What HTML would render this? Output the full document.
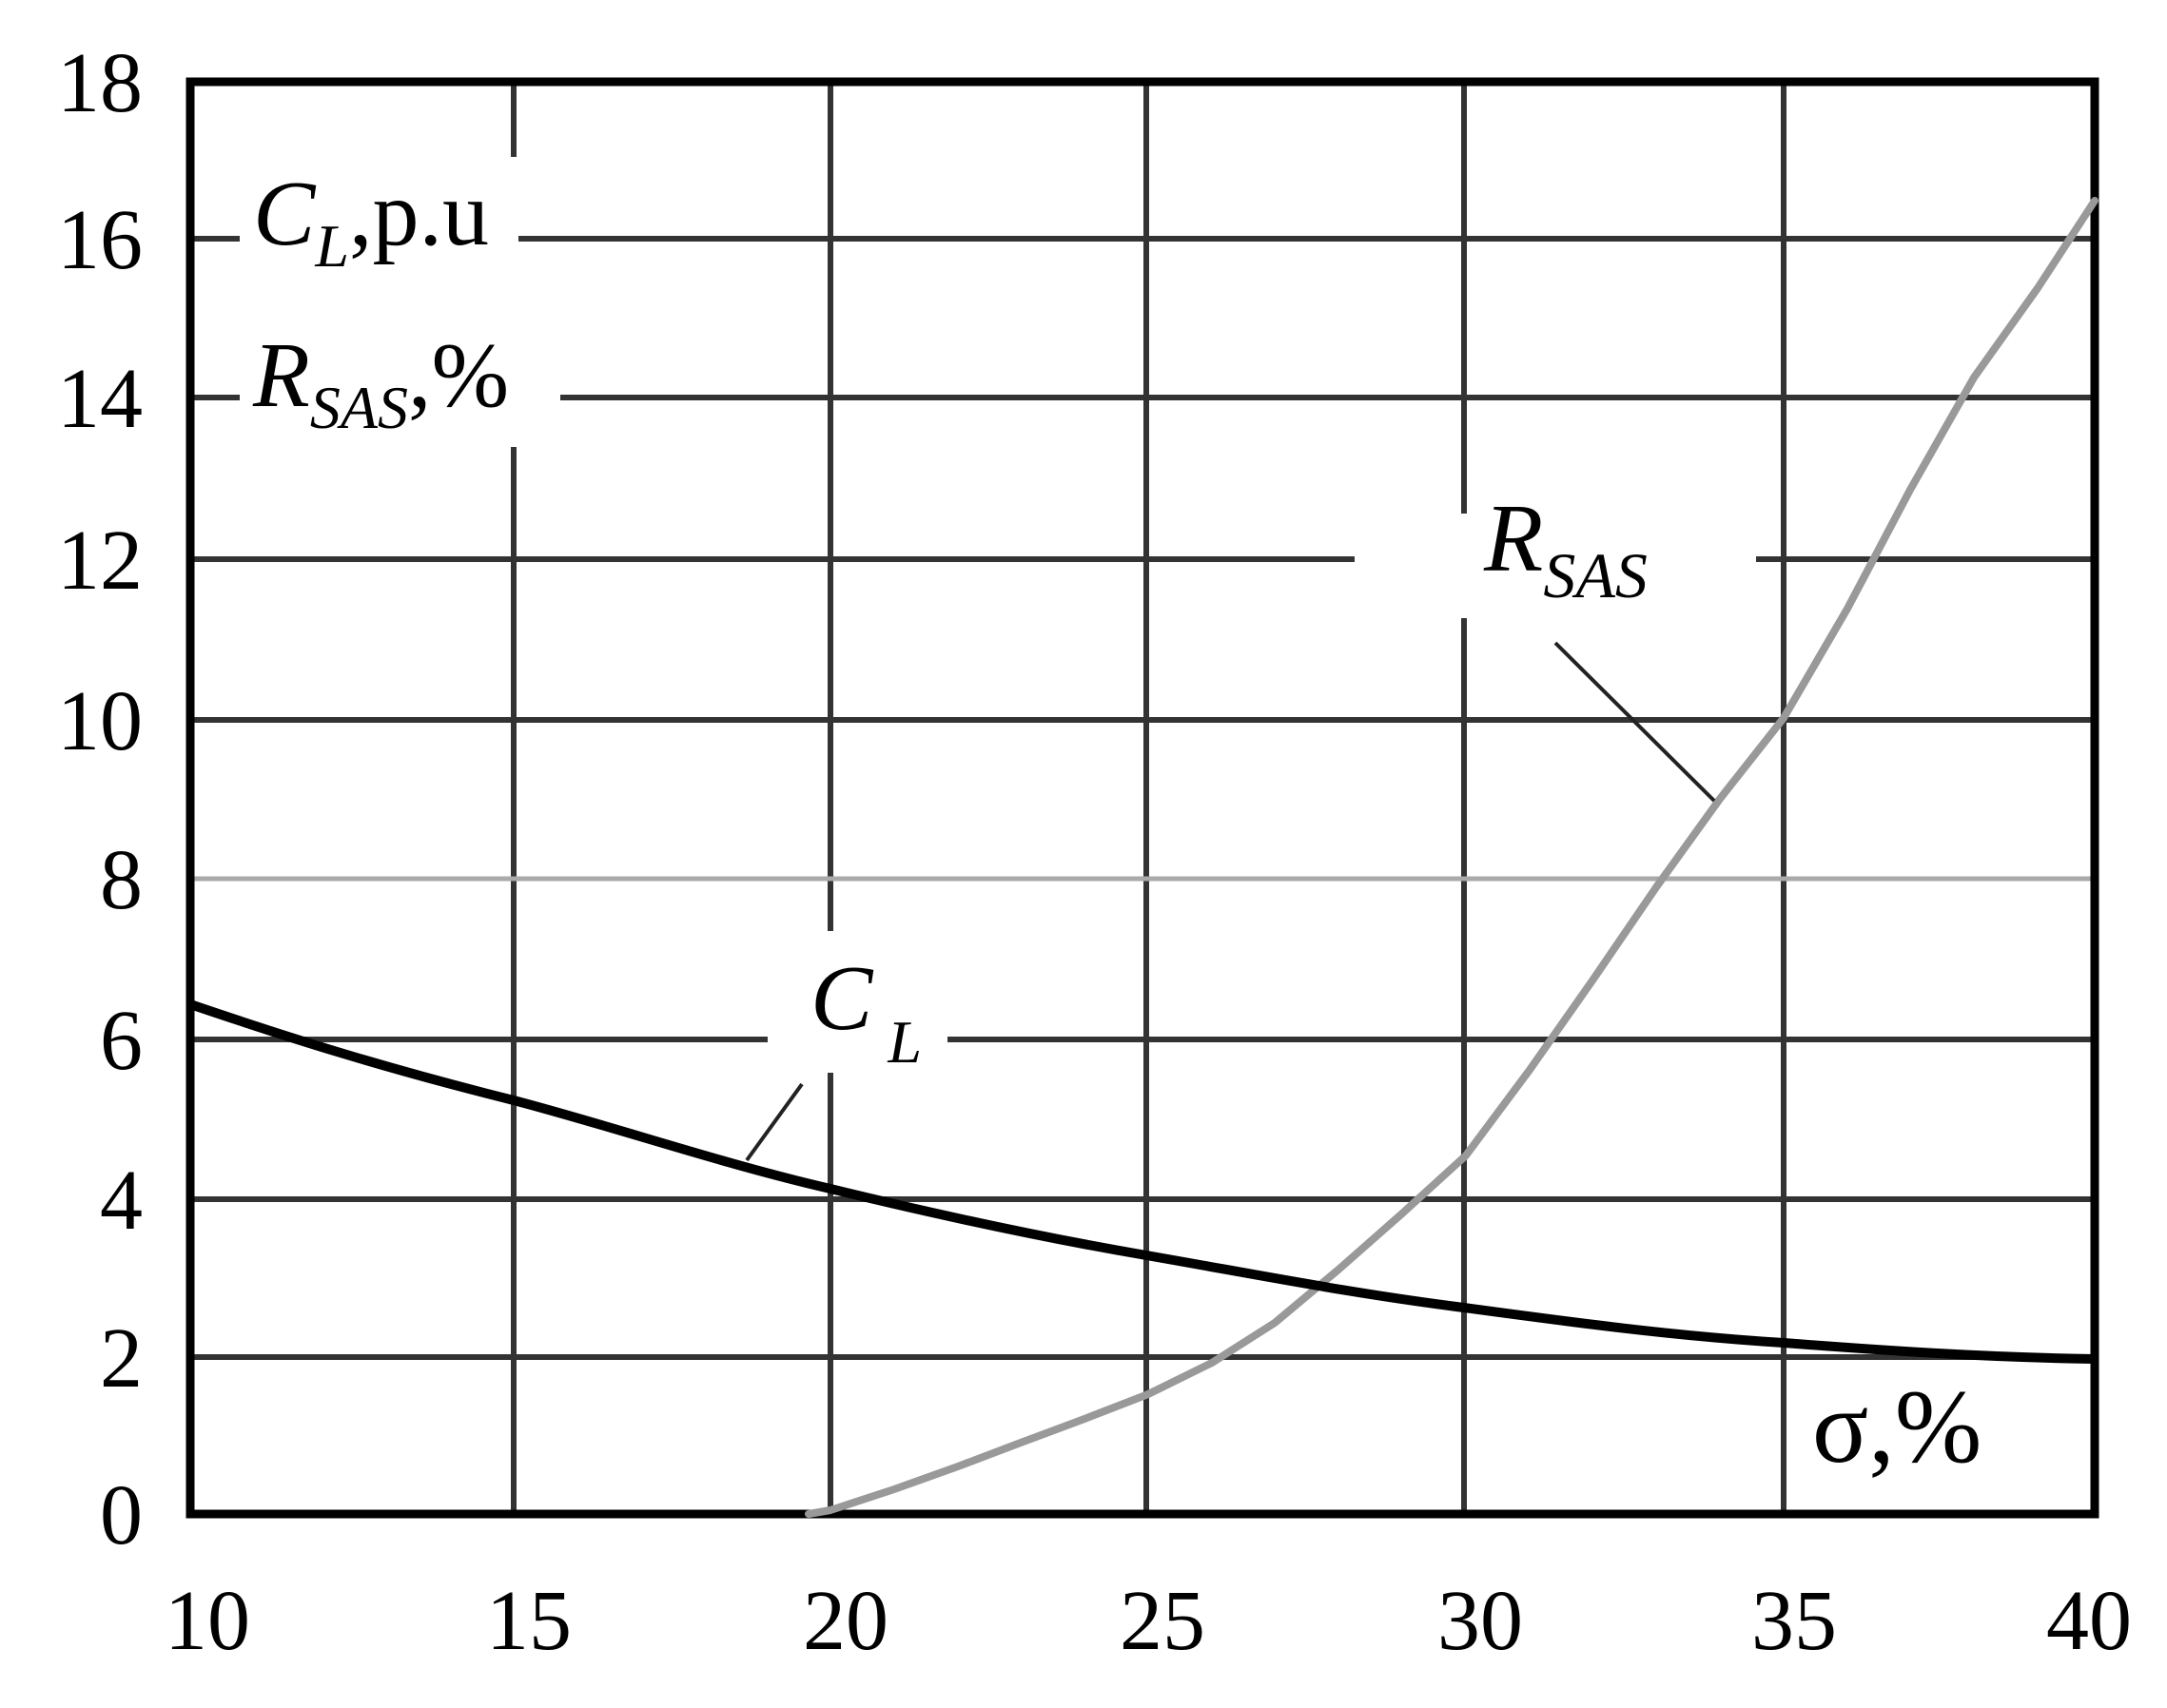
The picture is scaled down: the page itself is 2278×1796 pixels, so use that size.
<!DOCTYPE html>
<html><head><meta charset="utf-8"><style>
html,body{margin:0;padding:0;background:#fff;}
svg{display:block;}
text{font-family:"Liberation Serif",serif;fill:#000;}
</style></head><body>
<svg width="2278" height="1796" viewBox="0 0 2278 1796" xmlns="http://www.w3.org/2000/svg">
<rect width="2278" height="1796" fill="#fff"/>
<g stroke="#333" stroke-width="6" fill="none">
<line x1="540" y1="86" x2="540" y2="1592"/>
<line x1="873" y1="86" x2="873" y2="1592"/>
<line x1="1205" y1="86" x2="1205" y2="1592"/>
<line x1="1539" y1="86" x2="1539" y2="1592"/>
<line x1="1875" y1="86" x2="1875" y2="1592"/>
<line x1="200" y1="251" x2="2202" y2="251"/>
<line x1="200" y1="418" x2="2202" y2="418"/>
<line x1="200" y1="588" x2="2202" y2="588"/>
<line x1="200" y1="757" x2="2202" y2="757"/>
<line x1="200" y1="1093" x2="2202" y2="1093"/>
<line x1="200" y1="1261" x2="2202" y2="1261"/>
<line x1="200" y1="1427" x2="2202" y2="1427"/>
</g>
<line x1="200" y1="924" x2="2202" y2="924" stroke="#aaa" stroke-width="5"/>
<rect x="252" y="165" width="293" height="305" fill="#fff"/>
<rect x="545" y="350" width="44" height="120" fill="#fff"/>
<rect x="1424" y="540" width="422" height="110" fill="#fff"/>
<rect x="807" y="979" width="189" height="149" fill="#fff"/>
<g stroke="#000" stroke-width="9" fill="none">
<rect x="200" y="86" width="2002" height="1506"/>
</g>
<polyline fill="none" stroke="#999" stroke-width="8" stroke-linejoin="round" stroke-linecap="round"
 points="850,1592 873,1588 940,1566 1007,1542 1073,1517 1140,1492 1207,1466 1274,1433 1340,1391 1407,1335 1474,1276 1541,1215 1608,1125 1674,1031 1741,933 1808,840 1875,755 1942,640 2008,515 2075,397 2142,303 2202,211"/>
<path fill="none" stroke="#000" stroke-width="10" stroke-linejoin="round"
 d="M200,1056 C300,1090 400,1122 540,1157 C650,1186 760,1224 873,1250 C980,1276 1100,1302 1205,1320 C1320,1340 1420,1360 1539,1375 C1650,1390 1760,1405 1875,1412 C1980,1420 2080,1427 2202,1429"/>
<line x1="1635" y1="676" x2="1802" y2="842" stroke="#222" stroke-width="4"/>
<line x1="843" y1="1140" x2="785" y2="1220" stroke="#222" stroke-width="4"/>
<g font-size="90" text-anchor="end">
<text x="150" y="117">18</text>
<text x="150" y="282">16</text>
<text x="150" y="449">14</text>
<text x="150" y="619">12</text>
<text x="150" y="788">10</text>
<text x="150" y="955">8</text>
<text x="150" y="1124">6</text>
<text x="150" y="1292">4</text>
<text x="150" y="1458">2</text>
<text x="150" y="1623">0</text>
</g>
<g font-size="90" text-anchor="middle">
<text x="218" y="1734">10</text>
<text x="556" y="1734">15</text>
<text x="889" y="1734">20</text>
<text x="1222" y="1734">25</text>
<text x="1556" y="1734">30</text>
<text x="1886" y="1734">35</text>
<text x="2196" y="1734">40</text>
</g>
<text x="266" y="257" font-size="98"><tspan font-style="italic">C</tspan><tspan font-style="italic" font-size="64" dy="23">L</tspan><tspan dy="-23">,p.u</tspan></text>
<text x="266" y="427" font-size="98"><tspan font-style="italic">R</tspan><tspan font-style="italic" font-size="64" dy="23">SAS</tspan><tspan dy="-23">,%</tspan></text>
<text x="1560" y="600" font-size="102"><tspan font-style="italic">R</tspan><tspan font-style="italic" font-size="68" dy="28">SAS</tspan></text>
<text x="852" y="1082" font-size="98"><tspan font-style="italic">C</tspan><tspan font-style="italic" font-size="64" dx="16" dy="35">L</tspan></text>
<text x="1905" y="1537" font-size="110">σ,%</text>
</svg>
</body></html>
